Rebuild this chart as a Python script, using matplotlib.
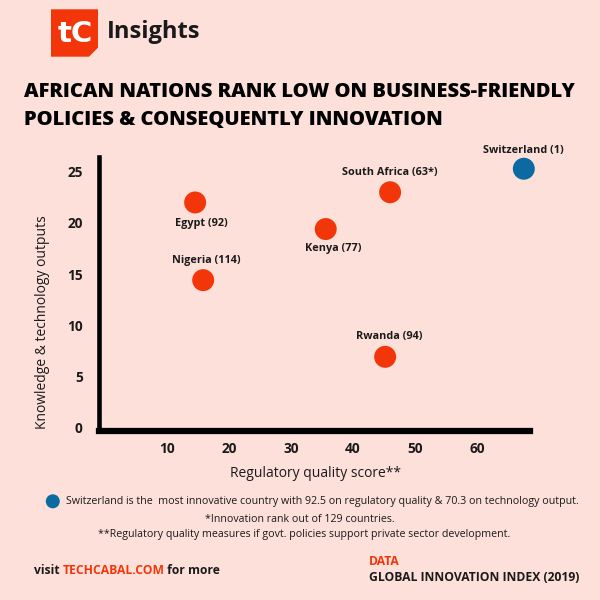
import matplotlib
matplotlib.use("Agg")
import matplotlib.pyplot as plt
from matplotlib.patches import Polygon, Circle

# ---------------- data ----------------
labels = ["Switzerland (1)", "South Africa (63*)", "Egypt (92)", "Kenya (77)",
          "Nigeria (114)", "Rwanda (94)"]
reg_quality = [67.6, 46.0, 14.5, 35.6, 15.8, 45.2]
tech_output = [25.3, 23.0, 22.0, 19.4, 14.4, 6.9]
is_switzerland = [True, False, False, False, False, False]
x_ticks = [10, 20, 30, 40, 50, 60]
y_ticks = [0, 5, 10, 15, 20, 25]

# label offsets in pixels (dx, dy; dy positive = up)
label_offsets = [(0, 18), (0, 19.5), (6, -21.5), (7.5, -19.7), (3, 19.6), (4, 20.3)]

BG = "#fde0da"
ORANGE = "#f2360a"
BLUE = "#0a6aa1"
DARK = "#1a1a1a"
FONT = ["Open Sans", "DejaVu Sans"]
plt.rcParams["font.family"] = FONT

W = H = 600.0
fig = plt.figure(figsize=(6, 6), dpi=100, facecolor=BG)


def fx(px):
    return px / W


def fy(py):
    return 1 - py / H


# axes placement (pixel coords of the spines)
left, right, top, bottom = 99.3, 530.0, 157.3, 430.7
ax = fig.add_axes([fx(left), fy(bottom), (right - left) / W, (bottom - top) / H])
ax.set_facecolor(BG)
ax.set_xlim(-0.98, 68.6)
ax.set_ylim(-0.33, 26.42)

for s in ["top", "right"]:
    ax.spines[s].set_visible(False)
ax.spines["left"].set_linewidth(3.3)
ax.spines["bottom"].set_linewidth(4.5)
ax.spines["left"].set_color("black")
ax.spines["bottom"].set_color("black")

ax.set_xticks(x_ticks)
ax.set_yticks(y_ticks)
ax.tick_params(axis="both", length=0, labelsize=9.8, colors=DARK)
ax.tick_params(axis="x", pad=8)
ax.tick_params(axis="y", pad=12)
for t in ax.get_xticklabels() + ax.get_yticklabels():
    t.set_fontweight("bold")

colors = [BLUE if sw else ORANGE for sw in is_switzerland]
ax.scatter(reg_quality, tech_output, s=250, c=colors, zorder=3, clip_on=False,
           linewidths=0)

for lab, x, y, (dx, dy) in zip(labels, reg_quality, tech_output, label_offsets):
    ax.annotate(lab, (x, y), xytext=(dx * 0.72, dy * 0.72), textcoords="offset points",
                ha="center", va="center", fontsize=7.8, fontweight="bold", color=DARK,
                annotation_clip=False)

# axis titles
fig.text(fx(316), fy(473.3), "Regulatory quality score**", ha="center", va="center",
         fontsize=10, color=DARK)
fig.text(fx(43), fy(322), "Knowledge & technology outputs", ha="center", va="center",
         rotation=90, fontsize=10, color=DARK)

# logo
lx0, lx1, ly0, ly1 = 51, 98, 9.3, 56.7
logo = Polygon([(fx(lx0), fy(ly0)), (fx(lx1), fy(ly0)), (fx(lx1), fy(ly1 - 9)),
                (fx(lx1 - 9), fy(ly1)), (fx(lx0), fy(ly1))], closed=True,
               transform=fig.transFigure, facecolor=ORANGE, edgecolor="none")
fig.add_artist(logo)
fig.text(fx(75), fy(34), "tC", ha="center", va="center", fontsize=21,
         fontweight="heavy", color="white", family=["DejaVu Sans"])
fig.text(fx(107), fy(38.3), "Insights", ha="left", va="baseline", fontsize=17,
         fontweight="bold", color=DARK)

# title
fig.text(fx(24), fy(96.7), "AFRICAN NATIONS RANK LOW ON BUSINESS-FRIENDLY", ha="left",
         va="baseline", fontsize=14.5, fontweight="heavy", color="black")
fig.text(fx(24), fy(125), "POLICIES & CONSEQUENTLY INNOVATION", ha="left",
         va="baseline", fontsize=14.5, fontweight="heavy", color="black")

# footnotes
fig.add_artist(Circle((fx(52.8), fy(501.3)), 7 / W, transform=fig.transFigure,
                      facecolor=BLUE, edgecolor="none"))
fig.text(fx(65.8), fy(501.3),
         "Switzerland is the  most innovative country with 92.5 on regulatory quality & 70.3 on technology output.",
         ha="left", va="center", fontsize=7.65, color=DARK)
fig.text(fx(300), fy(519.3), "*Innovation rank out of 129 countries.", ha="center",
         va="center", fontsize=7.65, color=DARK)
fig.text(fx(304), fy(534.3),
         "**Regulatory quality measures if govt. policies support private sector development.",
         ha="center", va="center", fontsize=7.65, color=DARK)

# bottom credits
cs = 8.7
t1 = fig.text(fx(33.7), fy(570), "visit ", ha="left", va="center", fontsize=cs,
              fontweight="bold", color=DARK)
fig.canvas.draw()
r = fig.canvas.get_renderer()
bb = t1.get_window_extent(r)
t2 = fig.text(bb.x1 / W, fy(570), "TECHCABAL.COM", ha="left", va="center", fontsize=cs,
              fontweight="bold", color=ORANGE)
bb2 = t2.get_window_extent(r)
fig.text(bb2.x1 / W, fy(570), " for more", ha="left", va="center", fontsize=cs,
         fontweight="bold", color=DARK)

fig.text(fx(369.3), fy(561.7), "DATA", ha="left", va="center", fontsize=cs,
         fontweight="bold", color=ORANGE)
fig.text(fx(369.3), fy(577.7), "GLOBAL INNOVATION INDEX (2019)", ha="left", va="center",
         fontsize=cs, fontweight="bold", color=DARK)

fig.savefig("out.png", dpi=100, facecolor=BG)
